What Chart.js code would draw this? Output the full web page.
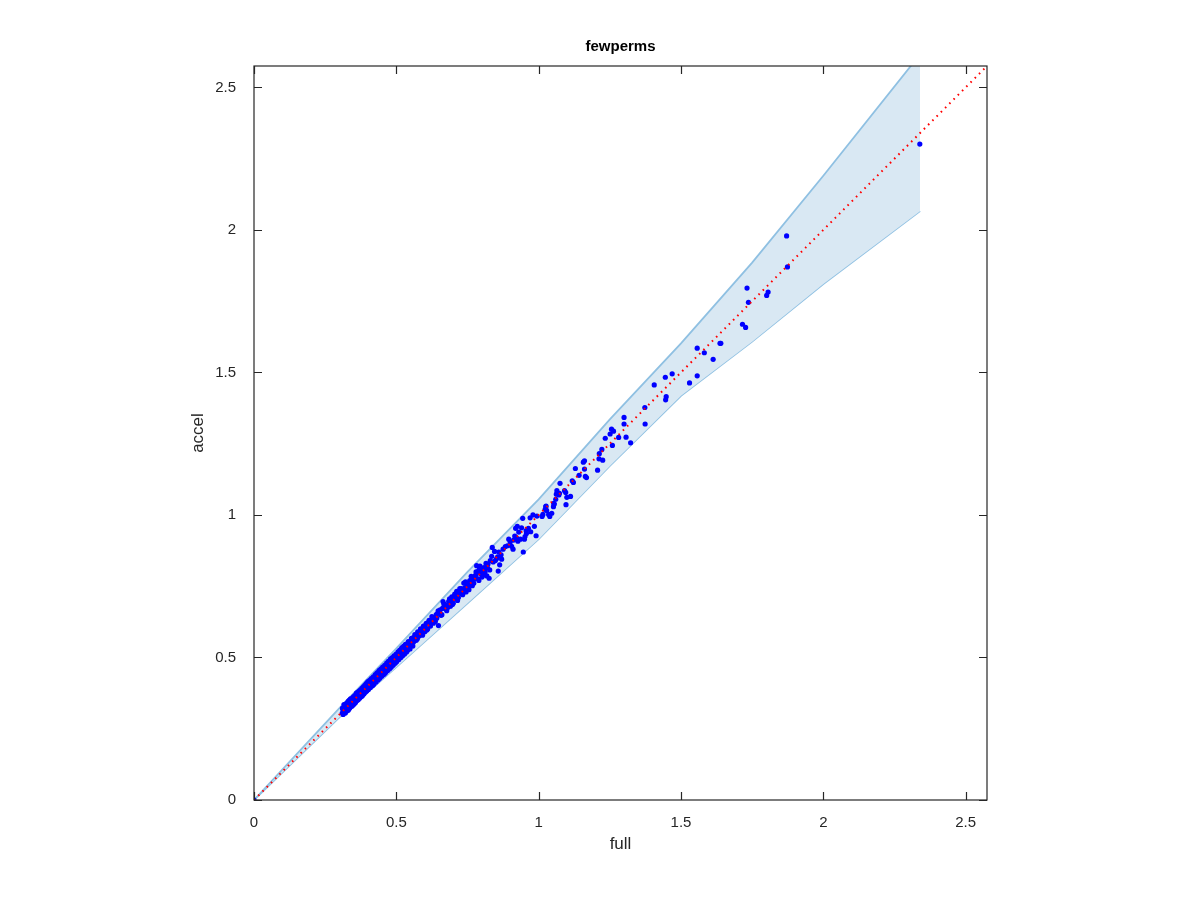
<!DOCTYPE html>
<html>
<head>
<meta charset="utf-8">
<script src="https://cdn.jsdelivr.net/npm/chart.js@4.4.1/dist/chart.umd.min.js"></script>
<style>
html,body{margin:0;padding:0;background:#fff;}
#wrap{width:1200px;height:900px;}
</style>
</head>
<body>
<div id="wrap"><canvas id="c" width="1200" height="900"></canvas></div>
<script>
// ---- data ----
const titleText = 'fewperms';
const xLabel = 'full';
const yLabel = 'accel';
const axisMin = 0;
const axisMax = 2.575;
const tickValues = [0, 0.5, 1, 1.5, 2, 2.5];
const tickLabels = ['0', '0.5', '1', '1.5', '2', '2.5'];

const bandX     = [0, 0.3,   0.5,   0.75, 1.0,   1.25,  1.5,   1.75,  2.0,  2.34];
const bandUpper = [0, 0.322, 0.532, 0.80, 1.055, 1.335, 1.602, 1.885, 2.19, 2.616];
const bandLower = [0, 0.29,  0.466, 0.69, 0.915, 1.172, 1.418, 1.608, 1.81, 2.066];

const diagX = [0, 2.575];
const diagY = [0, 2.575];

const fullX = [
0,
0.31,0.312,0.315,0.318,0.32,0.322,0.325,0.327,0.33,0.332,0.335,0.337,0.34,0.342,0.345,0.347,0.35,0.352,0.355,0.357,
0.36,0.362,0.365,0.367,0.37,0.372,0.375,0.377,0.38,0.383,0.385,0.388,0.39,0.393,0.395,0.398,0.4,0.403,0.405,0.408,
0.41,0.413,0.415,0.418,0.42,0.423,0.425,0.428,0.43,0.433,0.435,0.438,0.44,0.443,0.445,0.448,0.45,0.453,0.455,0.458,
0.46,0.463,0.465,0.468,0.47,0.473,0.475,0.478,0.48,0.483,0.485,0.488,0.49,0.493,0.495,0.498,0.5,0.503,0.505,0.508,
0.51,0.513,0.515,0.518,0.52,0.523,0.525,0.528,0.53,0.533,0.535,0.538,0.54,0.545,0.55,0.555,0.56,
0.316,0.33,0.345,0.36,0.38,0.4,0.42,0.44,0.46,0.48,0.5,0.52,0.54,
0.565,0.57,0.575,0.58,0.585,0.59,0.595,0.6,0.605,0.61,0.615,0.62,0.625,0.63,0.636,0.64,0.645,0.648,
0.654,0.66,0.664,0.668,0.675,0.68,0.684,0.69,0.695,0.696,0.7,0.706,0.712,0.718,0.725,0.731,0.737,0.741,0.745,0.753,
0.761,0.767,0.771,0.779,0.782,0.79,0.791,0.794,0.801,0.805,0.812,0.818,0.822,0.826,0.828,0.837,0.845,0.852,0.856,0.858,
0.863,0.883,0.89,0.912,0.916,0.919,0.922,0.927,0.936,0.944,0.946,0.952,0.956,0.957,0.964,0.972,0.98,0.991,0.994,
1.012,1.015,1.023,1.025,1.026,1.028,1.035,1.039,1.046,1.052,1.053,1.055,1.06,1.062,1.064,1.071,1.073,1.075,1.091,1.095,
1.096,1.099,1.112,1.118,1.122,1.129,1.142,1.157,1.161,1.161,1.164,1.168,1.207,1.212,1.213,1.222,1.225,1.234,1.251,1.256,
1.259,1.263,1.281,1.3,1.3,1.307,1.323,1.373,1.374,1.406,1.445,1.446,1.448,1.469,1.53,1.557,1.557,1.582,1.613,1.637,
1.64,1.716,1.727,1.732,1.737,1.801,1.806,1.871,1.874,2.339,
0.56,0.572,0.588,0.598,0.603,0.612,0.622,0.632,0.642,0.652,0.662,0.672,0.682,0.692,0.702,0.71,0.72,0.728,0.735,0.748,
0.758,0.765,0.775,0.785,0.795,0.808,0.815,0.83,0.84,0.868,0.875,0.9,0.905,0.93,0.94,
0.311,0.313,0.319,0.321,0.324,0.326,0.329,0.331,0.334,0.336,0.339,0.341,0.344,0.346,0.349,0.351,0.354,0.356,0.359,0.361,
0.364,0.366,0.369,0.371,0.374,0.376,0.379,0.381,0.384,0.386,0.389,0.391,0.394,0.396,0.399,0.402,0.406,0.409,0.412,0.416,
0.419,0.422,0.426,0.429,0.432,0.436,0.439,0.442,0.446,0.449,0.452,0.456,0.459,0.462,0.466,0.469,0.472,0.476,0.479,0.482,
0.486,0.489,0.492,0.496,0.499,0.502,0.506,0.509,0.512,0.516,0.519,0.522,0.526,0.529,0.532,0.536,0.542,0.548,0.553,0.558,
0.566,0.574,0.583,0.592,0.601,0.607,0.617,0.627,0.637,0.647,0.657,0.667,0.677,0.687,0.697,0.705,0.715,0.723,0.733,0.743,
0.755,0.763,0.772,0.78,0.787,0.798,0.81,0.82,0.835,0.848,0.86,0.87,0.895,0.91,0.925,0.95,0.97,0.985
];
const accelY = [
0,
0.305,0.318,0.31,0.325,0.314,0.33,0.32,0.336,0.326,0.318,0.341,0.33,0.348,0.336,0.343,0.352,0.34,0.357,0.35,0.345,
0.362,0.356,0.37,0.36,0.376,0.366,0.372,0.383,0.374,0.39,0.38,0.394,0.386,0.4,0.39,0.405,0.396,0.41,0.4,0.415,
0.406,0.421,0.41,0.426,0.417,0.43,0.42,0.436,0.427,0.44,0.43,0.446,0.436,0.452,0.44,0.456,0.447,0.46,0.45,0.467,
0.455,0.47,0.46,0.476,0.466,0.48,0.47,0.487,0.475,0.49,0.481,0.496,0.485,0.5,0.49,0.507,0.495,0.51,0.5,0.516,
0.506,0.52,0.51,0.527,0.515,0.53,0.52,0.537,0.526,0.54,0.53,0.547,0.535,0.552,0.545,0.563,0.553,
0.335,0.345,0.33,0.375,0.365,0.415,0.405,0.455,0.445,0.495,0.485,0.535,0.525,
0.58,0.56,0.59,0.575,0.6,0.585,0.61,0.59,0.62,0.6,0.63,0.61,0.643,0.62,0.631,0.65,0.655,0.612,
0.667,0.65,0.696,0.678,0.67,0.685,0.697,0.68,0.713,0.697,0.69,0.713,0.732,0.71,0.725,0.737,0.761,0.745,0.73,0.748,
0.762,0.752,0.772,0.789,0.822,0.77,0.807,0.821,0.782,0.795,0.801,0.786,0.828,0.778,0.807,0.886,0.872,0.846,0.853,0.803,
0.825,0.889,0.892,0.912,0.926,0.953,0.92,0.908,0.915,0.988,0.87,0.924,0.945,0.935,0.953,0.941,1.0,0.927,0.996,
0.995,1.002,1.02,1.029,1.031,1.016,1.002,0.995,1.006,1.029,1.041,1.038,1.055,1.073,1.085,1.07,1.076,1.111,1.085,1.079,
1.036,1.062,1.065,1.12,1.114,1.163,1.139,1.185,1.19,1.161,1.135,1.131,1.157,1.197,1.215,1.23,1.192,1.269,1.284,1.301,
1.244,1.294,1.272,1.342,1.319,1.273,1.253,1.377,1.319,1.456,1.483,1.404,1.415,1.495,1.463,1.585,1.488,1.569,1.546,1.602,
1.602,1.669,1.658,1.796,1.746,1.77,1.782,1.979,1.87,2.301,
0.57,0.578,0.594,0.602,0.6,0.622,0.627,0.64,0.638,0.66,0.672,0.684,0.676,0.702,0.708,0.72,0.73,0.742,0.728,0.758,
0.77,0.78,0.785,0.8,0.795,0.815,0.83,0.84,0.835,0.86,0.88,0.905,0.89,0.94,0.955,
0.322,0.300,0.333,0.305,0.338,0.312,0.34,0.315,0.35,0.322,0.355,0.328,0.356,0.333,0.362,0.336,0.366,0.341,0.372,0.348,
0.378,0.352,0.382,0.357,0.386,0.362,0.392,0.368,0.397,0.372,0.402,0.378,0.408,0.382,0.412,0.388,0.42,0.395,0.426,0.401,
0.432,0.408,0.44,0.414,0.446,0.421,0.452,0.427,0.46,0.434,0.466,0.44,0.472,0.447,0.48,0.453,0.486,0.46,0.492,0.466,
0.5,0.473,0.506,0.48,0.512,0.487,0.52,0.493,0.526,0.5,0.532,0.506,0.54,0.512,0.546,0.519,0.556,0.53,0.567,0.54,
0.571,0.566,0.59,0.578,0.61,0.596,0.618,0.635,0.626,0.664,0.648,0.688,0.664,0.706,0.686,0.722,0.7,0.742,0.72,0.765,
0.738,0.785,0.76,0.8,0.776,0.81,0.79,0.815,0.855,0.84,0.87,0.845,0.915,0.88,0.96,0.915,0.99,0.96
];

// ---- build ----
const toXY = (xs, ys) => xs.map((x, i) => ({x: x, y: ys[i]}));
const FONT = "'Liberation Sans', Arial, Helvetica, sans-serif";
const INK = '#262626';

const boxPlugin = {
  id: 'box',
  afterDraw(chart) {
    const {ctx, chartArea: a, scales} = chart;
    const xs = scales.x, ys = scales.y;
    ctx.save();
    ctx.strokeStyle = INK;
    ctx.lineWidth = 1.2;
    ctx.strokeRect(a.left, a.top, a.right - a.left, a.bottom - a.top);
    const L = 8;
    ctx.beginPath();
    tickValues.forEach(v => {
      const px = Math.round(xs.getPixelForValue(v)) + 0.5;
      ctx.moveTo(px, a.bottom); ctx.lineTo(px, a.bottom - L);
      ctx.moveTo(px, a.top); ctx.lineTo(px, a.top + L);
      const py = Math.round(ys.getPixelForValue(v)) + 0.5;
      ctx.moveTo(a.left, py); ctx.lineTo(a.left + L, py);
      ctx.moveTo(a.right, py); ctx.lineTo(a.right - L, py);
    });
    ctx.stroke();
    ctx.fillStyle = '#000';
    ctx.font = 'bold 15px ' + FONT;
    ctx.textAlign = 'center';
    ctx.textBaseline = 'alphabetic';
    ctx.fillText(titleText, (a.left + a.right) / 2, 51);
    ctx.restore();
  }
};

const tickCfg = {
  color: INK,
  font: {family: FONT, size: 15},
  autoSkip: false,
  maxRotation: 0,
  callback: (v) => { const i = tickValues.indexOf(v); return i >= 0 ? tickLabels[i] : ''; }
};

new Chart(document.getElementById('c'), {
  type: 'scatter',
  data: {
    datasets: [
      {
        type: 'line', label: 'diag', data: toXY(diagX, diagY),
        borderColor: '#ff0000', borderWidth: 2, borderDash: [1.6, 4.4],
        pointRadius: 0, fill: false, order: 0
      },
      {
        label: 'points', data: toXY(fullX, accelY),
        backgroundColor: '#0000ff', borderWidth: 0, pointRadius: 2.6, order: 1
      },
      {
        type: 'line', label: 'upper', data: toXY(bandX, bandUpper),
        borderColor: '#8fc0e2', borderWidth: 1.8, backgroundColor: 'rgba(217,232,243,1)',
        pointRadius: 0, fill: '+1', tension: 0, order: 2
      },
      {
        type: 'line', label: 'lower', data: toXY(bandX, bandLower),
        borderColor: '#8fc0e2', borderWidth: 1.8,
        pointRadius: 0, fill: false, tension: 0, order: 3
      }
    ]
  },
  options: {
    responsive: false,
    animation: false,
    layout: {padding: {left: 184, top: 66, right: 213, bottom: 40}},
    plugins: {legend: {display: false}, tooltip: {enabled: false}, title: {display: false}},
    scales: {
      x: {
        type: 'linear', min: axisMin, max: axisMax,
        grid: {display: false}, border: {display: false},
        afterBuildTicks: (s) => { s.ticks = tickValues.map(v => ({value: v})); },
        afterFit: (s) => { s.height = 60; },
        ticks: Object.assign({padding: 6}, tickCfg),
        title: {display: true, text: xLabel, color: INK, font: {family: FONT, size: 17}, padding: {top: 0, bottom: 5}}
      },
      y: {
        type: 'linear', min: axisMin, max: axisMax,
        grid: {display: false}, border: {display: false},
        afterBuildTicks: (s) => { s.ticks = tickValues.map(v => ({value: v})); },
        afterFit: (s) => { s.width = 70; },
        ticks: Object.assign({padding: 10}, tickCfg),
        title: {display: true, text: yLabel, color: INK, font: {family: FONT, size: 17}, padding: {top: 4, bottom: 0}}
      }
    }
  },
  plugins: [boxPlugin]
});
</script>
</body>
</html>
